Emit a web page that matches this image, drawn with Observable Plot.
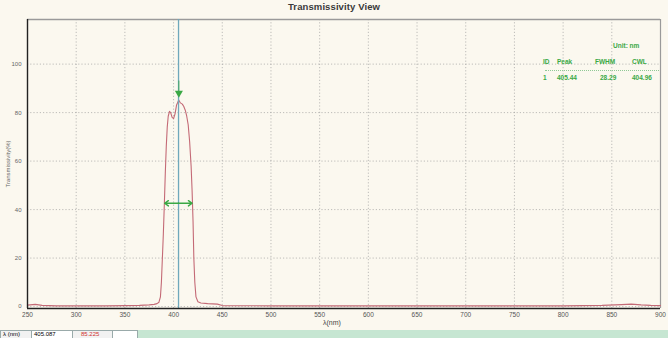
<!DOCTYPE html>
<html>
<head>
<meta charset="utf-8">
<script src="https://cdn.jsdelivr.net/npm/d3@7"></script>
<script src="https://cdn.jsdelivr.net/npm/@observablehq/plot@0.6"></script>
<style>
  html, body { margin: 0; padding: 0; width: 668px; height: 338px; overflow: hidden; background: #f8f4e9; font-family: "Liberation Sans", Arial, sans-serif; }
  #wrap { position: relative; width: 668px; height: 338px; }
  #chart { position: absolute; left: 0; top: 0; }
  #title { position: absolute; left: 0; width: 668px; top: 1px; text-align: center; font-size: 9.5px; font-weight: bold; color: #3a3a3a; letter-spacing: 0.1px; }
  #xlabel { position: absolute; left: 323px; top: 319px; font-size: 7px; color: #444; }
  #legend { position: absolute; left: 543px; top: 42px; width: 118px; font-size: 6.5px; font-weight: bold; color: #3aa845; }
  #legend .unit { position: absolute; left: 70px; top: 0; }
  #legend .row { position: absolute; left: 0; width: 118px; }
  #legend .row span { position: absolute; }
  #legend .sep { position: absolute; left: 2px; top: 28px; width: 114px; border-top: 1.5px dotted #8fc995; }
  #status { position: absolute; left: 0; top: 330px; width: 668px; height: 8px; background: #c6e6d2; font-size: 6px; }
  #status div { position: absolute; top: 0; height: 7px; line-height: 7px; border: 1px solid #9aa; border-bottom: none; }
</style>
</head>
<body>
<div id="wrap">
  <div id="chart"></div>
  <div id="title"></div>
  <div id="xlabel"></div>
  <div id="legend"></div>
  <div id="status"></div>
</div>
<script>
// ---- data ----
const wavelength = [250, 258, 265, 280, 300, 330, 350, 365, 375, 380, 383, 385, 386.5, 387.5, 388.5, 389.5, 390.5, 391.5, 392.5, 393.5, 394.5, 395.8, 397, 398.5, 400, 401.5, 403, 405.3, 407, 409, 410.5, 412, 413.5, 415, 416.5, 418, 419, 420, 420.8, 421.8, 423, 425, 428, 435, 445, 450, 500, 600, 700, 800, 840, 860, 870, 880, 890, 900];
const transmittance = [0.6, 0.9, 0.5, 0.3, 0.3, 0.3, 0.4, 0.5, 0.7, 0.9, 1.2, 1.8, 4, 10, 20, 30, 42, 55, 66, 74, 78.5, 80.5, 80, 78, 77.5, 79.5, 83, 85.2, 84, 83.5, 82.5, 81, 78.5, 75, 68, 58, 48, 35, 20, 10, 4, 2, 1.5, 1.2, 1, 0.4, 0.3, 0.3, 0.3, 0.3, 0.5, 0.8, 1.0, 0.7, 0.5, 0.4];
const xTicks = [250, 300, 350, 400, 450, 500, 550, 600, 650, 700, 750, 800, 850, 900];
const yTicks = [0, 20, 40, 60, 80, 100];
const xDomain = [250, 900];
const yDomain = [-0.8, 118.4];
const cursorNm = 405.087;
const cursorValue = 85.225;
const peakNm = 405.44;
const fwhmNm = 28.29;
const cwlNm = 404.96;
const halfMax = 42.6;
const markerTop = 93;
const markerTip = 88;
const legendHeaders = ["ID", "Peak", "FWHM", "CWL"];
const legendValues = ["1", "405.44", "28.29", "404.96"];
const titleText = "Transmissivity View";
const yLabel = "Transmissivity(%)";
const xLabel = "λ(nm)";
const unitText = "Unit: nm";

const spectrum = wavelength.map((w, i) => ({w, t: transmittance[i]}));
const green = "#3aa845";

const chart = Plot.plot({
  width: 668,
  height: 331,
  marginTop: 19,
  marginBottom: 23,
  marginLeft: 27,
  marginRight: 8,
  style: {background: "#fbf8ef", fontFamily: "Liberation Sans, Arial, sans-serif", fontSize: "6.5px", color: "#555"},
  x: {domain: xDomain, label: null},
  y: {domain: yDomain, label: null},
  marks: [
    Plot.gridX(xTicks, {stroke: "#9a9a9a", strokeOpacity: 0.8, strokeDasharray: "1.2,2", strokeWidth: 0.8}),
    Plot.gridY(yTicks, {stroke: "#9a9a9a", strokeOpacity: 0.8, strokeDasharray: "1.2,2", strokeWidth: 0.8}),
    Plot.ruleY([yDomain[1]], {stroke: "#9a9a9a", strokeWidth: 1.5}),
    Plot.ruleX([xDomain[1]], {stroke: "#9a9a9a", strokeWidth: 1.2}),
    Plot.line(spectrum, {x: "w", y: "t", stroke: "#c46a76", strokeWidth: 1.1}),
    Plot.ruleX([cursorNm], {stroke: "#6fa8bb", strokeWidth: 1.3}),
    Plot.ruleX([peakNm], {y1: markerTop, y2: markerTip, stroke: green, strokeWidth: 0.8}),
    Plot.dot([{x: peakNm, y: markerTip}], {x: "x", y: "y", symbol: "triangle", rotate: 180, r: 3, fill: green, stroke: "none"}),
    Plot.arrow([{x1: cwlNm, x2: cwlNm - fwhmNm / 2}, {x1: cwlNm, x2: cwlNm + fwhmNm / 2}], {x1: "x1", x2: "x2", y1: halfMax, y2: halfMax, stroke: green, strokeWidth: 1.4, headLength: 5, headAngle: 70}),
    Plot.ruleX([xDomain[0]], {stroke: "#222", strokeWidth: 1.4}),
    Plot.ruleY([yDomain[0]], {stroke: "#222", strokeWidth: 1.4}),
    Plot.axisX({ticks: xTicks, tickSize: 0, tickPadding: 4, label: null, fontSize: 6.5}),
    Plot.axisY({ticks: yTicks, tickSize: 0, tickPadding: 6, label: yLabel, labelArrow: "none", labelAnchor: "center", labelOffset: 22, fontSize: 6, color: "#666"})
  ]
});
document.getElementById("chart").appendChild(chart);

document.getElementById("title").textContent = titleText;
document.getElementById("xlabel").textContent = xLabel;

const legendPos = [0, 14, 52, 89];
const lg = document.getElementById("legend");
lg.innerHTML = `<div class="unit">${unitText}</div>` +
  `<div class="row" style="top:16px">${legendHeaders.map((h, i) => `<span style="left:${legendPos[i]}px">${h}</span>`).join("")}</div>` +
  `<div class="sep"></div>` +
  `<div class="row" style="top:32px">${legendValues.map((h, i) => `<span style="left:${legendPos[i] + (i === 2 ? 5 : 0)}px">${h}</span>`).join("")}</div>`;

const st = document.getElementById("status");
st.innerHTML = `<div style="left:0;width:28px;background:#f2f2f2;padding-left:2px">λ (nm)</div>` +
  `<div style="left:31px;width:38px;background:#fff;padding-left:2px">${cursorNm.toFixed(3)}</div>` +
  `<div style="left:72px;width:36px;background:#f2f2f2;padding-left:8px;color:#d03030">${cursorValue.toFixed(3)}</div>` +
  `<div style="left:112px;width:24px;background:#fff"></div>`;
</script>
</body>
</html>
